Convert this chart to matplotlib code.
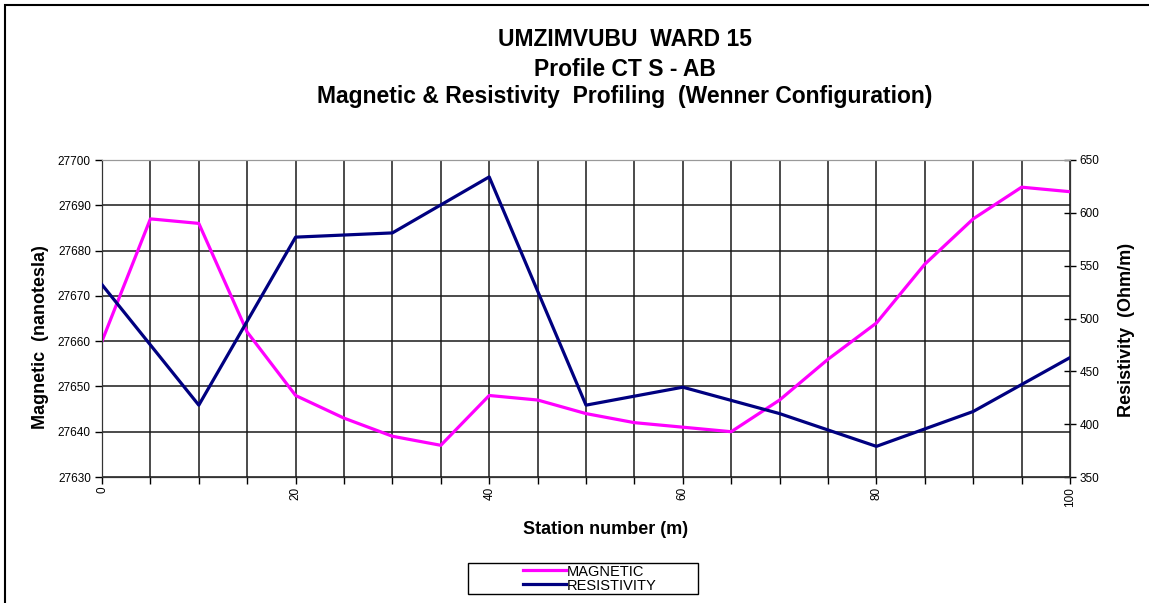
import numpy as np
import matplotlib
matplotlib.use("Agg")
from matplotlib import pyplot as plt
from matplotlib.patches import Rectangle

plt.rcParams['font.family'] = ['Liberation Sans', 'DejaVu Sans']

# magnetic readings every 5 m
mag_x = np.arange(0, 101, 5)
mag = np.array([27660, 27687, 27686, 27662, 27648, 27643, 27639, 27637,
                27648, 27647, 27644, 27642, 27641, 27640, 27647, 27656,
                27664, 27677, 27687, 27694, 27693])

# resistivity readings every 10 m
res_x = np.arange(0, 101, 10)
res = np.array([532, 418, 577, 581, 634, 418, 435, 410, 379, 412, 463])

xticks = np.arange(0, 101, 5)
xticklabels = [str(v) if v % 20 == 0 else '' for v in xticks]
mag_ticks = np.arange(27630, 27701, 10)
res_ticks = np.arange(350, 651, 50)

fig = plt.figure(figsize=(11.49, 6.03), dpi=100)
ax = fig.add_axes([102/1149, 1-477/603, (1070-102)/1149, (477-160)/603])
ax2 = ax.twinx()

ln1, = ax.plot(mag_x, mag, color='#FF00FF', lw=2.3, zorder=5)
ln2, = ax2.plot(res_x, res, color='#000080', lw=2.3, zorder=5)

ax.set_xlim(0, 100)
ax.set_ylim(27630, 27700)
ax2.set_ylim(350, 650)
ax.set_xticks(xticks)
ax.set_xticklabels(xticklabels, rotation=90, fontsize=8.5)
ax.set_yticks(mag_ticks)
ax.set_yticklabels([str(v) for v in mag_ticks], fontsize=8.5)
ax2.set_yticks(res_ticks)
ax2.set_yticklabels([str(v) for v in res_ticks], fontsize=8.5)

ax.grid(True, color='#1a1a1a', lw=1.1)
ax.set_axisbelow(True)
ax.tick_params(axis='x', direction='out', length=5, width=1, pad=2)
ax.tick_params(axis='y', direction='out', length=5, width=1, pad=3)
ax2.tick_params(axis='y', direction='inout', length=8, width=1, pad=3)

for sp in ['left', 'bottom', 'right']:
    ax2.spines[sp].set_color('#333333')
ax2.spines['top'].set_color('#999999')
ax.spines['top'].set_color('#999999')

ax.set_ylabel('Magnetic  (nanotesla)', fontsize=13, fontweight='bold')
ax.yaxis.set_label_coords(-0.055, 0.44)
ax2.set_ylabel('Resistivity  (Ohm/m)', fontsize=13, fontweight='bold')
ax2.yaxis.set_label_coords(1.0495, 0.464)
ax.set_xlabel('Station number (m)', fontsize=13, fontweight='bold')
ax.xaxis.set_label_coords(0.52, -0.139)

tx = 625/1149
fig.text(tx, 1-40/603, 'UMZIMVUBU  WARD 15', ha='center', va='center',
         fontsize=16.5, fontweight='bold')
fig.text(tx, 1-69/603, 'Profile CT S - AB', ha='center', va='center',
         fontsize=16.5, fontweight='bold')
fig.text(tx, 1-97/603, 'Magnetic & Resistivity  Profiling  (Wenner Configuration)',
         ha='center', va='center', fontsize=16.5, fontweight='bold')

leg = fig.legend([ln1, ln2], ['MAGNETIC', 'RESISTIVITY'], loc='center',
                 bbox_to_anchor=(589.5/1149, 1-578.5/603), frameon=False,
                 fontsize=10.5, handlelength=2.95, handletextpad=0.05,
                 labelspacing=0.0, borderpad=0)
fig.patches.append(Rectangle((468/1149, 1-594/603), (698-468)/1149, 31/603,
                             transform=fig.transFigure, fill=False,
                             edgecolor='black', lw=1))

# outer frame, open on the right and bottom edges
fig.patches.append(Rectangle((5/1149, -0.1), 1.2, 1.1-5/603,
                             transform=fig.transFigure, fill=False,
                             edgecolor='black', lw=1.5, clip_on=False))

fig.savefig('out.png', dpi=100)
